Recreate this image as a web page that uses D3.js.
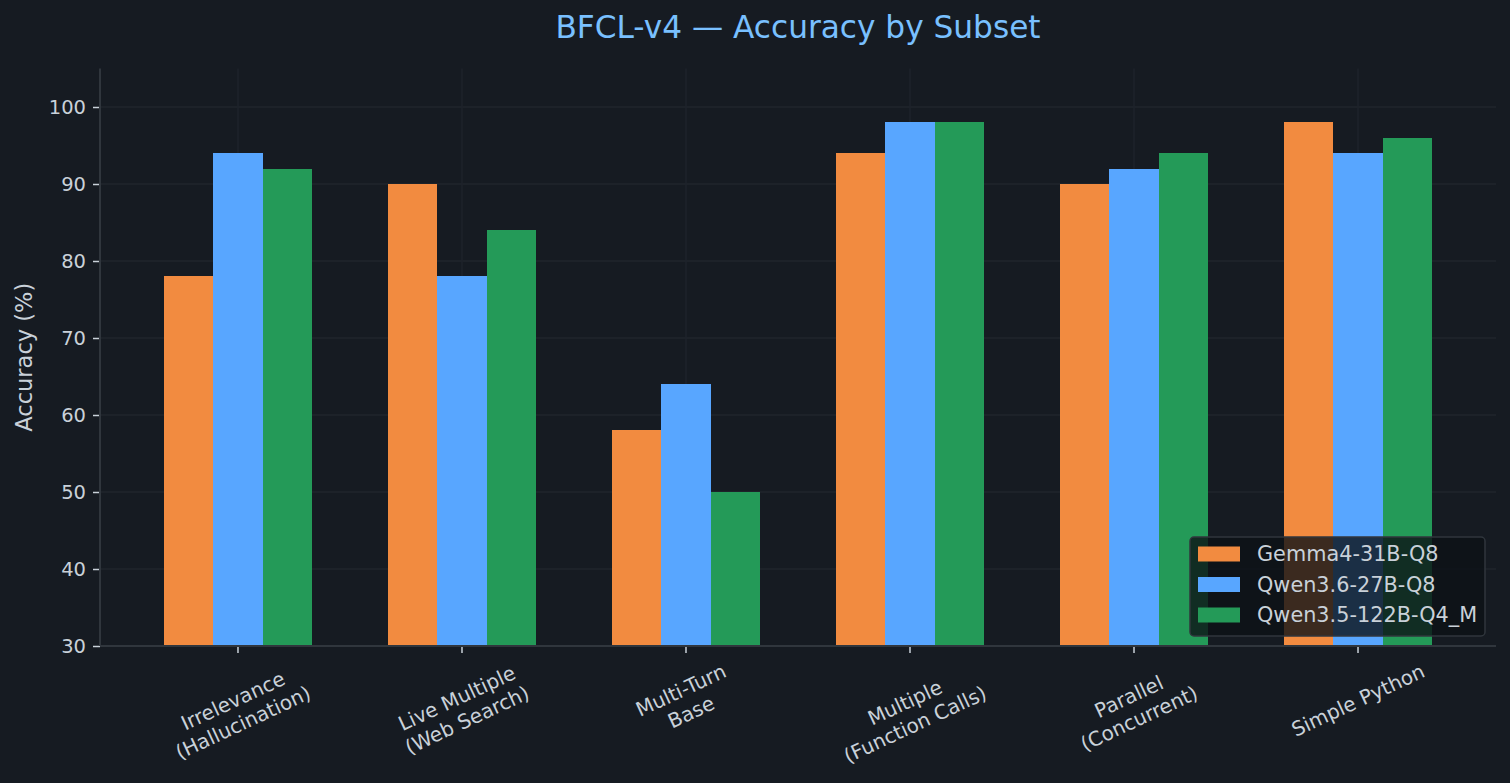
<!DOCTYPE html>
<html>
<head>
<meta charset="utf-8">
<script src="https://cdn.jsdelivr.net/npm/d3@7"></script>
<style>
  html, body { margin: 0; padding: 0; background: #161b22; }
  svg { display: block; font-family: "DejaVu Sans", sans-serif; }
</style>
</head>
<body>
<svg id="chart"></svg>
<script>
// data
const subsets = [
    ["Irrelevance", "(Hallucination)"],
    ["Live Multiple", "(Web Search)"],
    ["Multi-Turn", "Base"],
    ["Multiple", "(Function Calls)"],
    ["Parallel", "(Concurrent)"],
    ["Simple Python"]
];
const models = ["Gemma4-31B-Q8", "Qwen3.6-27B-Q8", "Qwen3.5-122B-Q4_M"];
const gemma = [78, 90, 58, 94, 90, 98];
const qwen27 = [94, 78, 64, 98, 92, 94];
const qwen122 = [92, 84, 50, 98, 94, 96];
const yTicks = [30, 40, 50, 60, 70, 80, 90, 100];
const colors = ["#f28b40", "#58a6ff", "#249a58"];

const config = {
    width: 1510,
    height: 783,
    margin: { top: 68.5, right: 14, bottom: 137, left: 100 }
};

const series = [gemma, qwen27, qwen122];
const W = config.width, H = config.height, m = config.margin;
const pLeft = m.left, pRight = W - m.right, pTop = m.top, pBottom = H - m.bottom;

const svg = d3.select("#chart")
    .attr("width", W)
    .attr("height", H);

svg.append("rect")
    .attr("width", W).attr("height", H)
    .attr("fill", "#161b22");

const barW = 0.22;
const xscale = d3.scaleLinear()
    .domain([-0.616, subsets.length - 1 + 0.616])
    .range([pLeft, pRight]);
const yscale = d3.scaleLinear()
    .domain([30, 105])
    .range([pBottom, pTop]);

// grid
const grid = svg.append("g");
grid.selectAll(".hg").data(yTicks).join("line")
    .attr("x1", pLeft).attr("x2", pRight)
    .attr("y1", d => yscale(d)).attr("y2", d => yscale(d))
    .attr("stroke", "#21262d").attr("stroke-width", 1.5);
grid.selectAll(".vg").data(d3.range(subsets.length)).join("line")
    .attr("x1", d => xscale(d)).attr("x2", d => xscale(d))
    .attr("y1", pTop).attr("y2", pBottom)
    .attr("stroke", "#1e232b").attr("stroke-width", 1.5);

// bars
series.forEach((vals, si) => {
    svg.append("g").selectAll("rect").data(vals).join("rect")
        .attr("x", (d, i) => xscale(i + (si - 1) * barW - barW / 2))
        .attr("width", xscale(barW) - xscale(0))
        .attr("y", d => yscale(d))
        .attr("height", d => yscale(30) - yscale(d))
        .attr("fill", colors[si])
        .attr("shape-rendering", "crispEdges");
});

// y axis
const yaxis = d3.axisLeft(yscale)
    .tickValues(yTicks)
    .tickSize(7)
    .tickPadding(7)
    .tickSizeOuter(0);
const yg = svg.append("g")
    .attr("transform", `translate(${pLeft},0)`)
    .call(yaxis);
yg.select(".domain").remove();
yg.selectAll(".tick line").attr("stroke", "#c9d1d9").attr("stroke-width", 1.5);
yg.selectAll(".tick text")
    .attr("fill", "#c9d1d9")
    .attr("font-size", 19.5)
    .attr("font-family", "DejaVu Sans");

// x axis ticks
const xg = svg.append("g");
xg.selectAll("line").data(d3.range(subsets.length)).join("line")
    .attr("x1", d => xscale(d)).attr("x2", d => xscale(d))
    .attr("y1", pBottom).attr("y2", pBottom + 7)
    .attr("stroke", "#c9d1d9").attr("stroke-width", 1.5);

// rotated multi-line category labels, bbox centred under the tick
subsets.forEach((lines, i) => {
    const outer = xg.append("g");
    const inner = outer.append("g").attr("transform", "rotate(-25)");
    const t = inner.append("text")
        .attr("text-anchor", "middle")
        .attr("fill", "#c9d1d9")
        .attr("font-size", 20);
    lines.forEach((l, k) => {
        t.append("tspan").attr("x", 0).attr("y", k * 24).text(l);
    });
    const bb = outer.node().getBoundingClientRect();
    const cx = bb.left + bb.width / 2;
    const dx = xscale(i) - cx;
    const dy = pBottom + 13 - bb.top;
    outer.attr("transform", `translate(${dx},${dy})`);
});

// spines
svg.append("line")
    .attr("x1", pLeft).attr("x2", pLeft)
    .attr("y1", pTop).attr("y2", pBottom)
    .attr("stroke", "#30363d").attr("stroke-width", 2);
svg.append("line")
    .attr("x1", pLeft).attr("x2", pRight)
    .attr("y1", pBottom).attr("y2", pBottom)
    .attr("stroke", "#30363d").attr("stroke-width", 2);

// y label
svg.append("text")
    .attr("transform", `translate(32,${(pTop + pBottom) / 2}) rotate(-90)`)
    .attr("text-anchor", "middle")
    .attr("fill", "#c9d1d9")
    .attr("font-size", 22.5)
    .text("Accuracy (%)");

// title
svg.append("text")
    .attr("x", (pLeft + pRight) / 2)
    .attr("y", 38)
    .attr("text-anchor", "middle")
    .attr("fill", "#79c0ff")
    .attr("font-size", 31.2)
    .text("BFCL-v4 \u2014 Accuracy by Subset");

// legend
const lg = svg.append("g").attr("transform", "translate(1190,537)");
lg.append("rect")
    .attr("width", 295).attr("height", 99)
    .attr("rx", 4)
    .attr("fill", "#0d1117").attr("fill-opacity", 0.8)
    .attr("stroke", "#30363d").attr("stroke-width", 1.5);
models.forEach((name, i) => {
    const row = lg.append("g").attr("transform", `translate(0,${17 + i * 30.5})`);
    row.append("rect")
        .attr("x", 8).attr("y", -7.5)
        .attr("width", 42).attr("height", 15)
        .attr("fill", colors[i]);
    row.append("text")
        .attr("x", 67).attr("y", 0)
        .attr("dy", "0.35em")
        .attr("fill", "#c9d1d9")
        .attr("font-size", 20.8)
        .text(name);
});
</script>
</body>
</html>
